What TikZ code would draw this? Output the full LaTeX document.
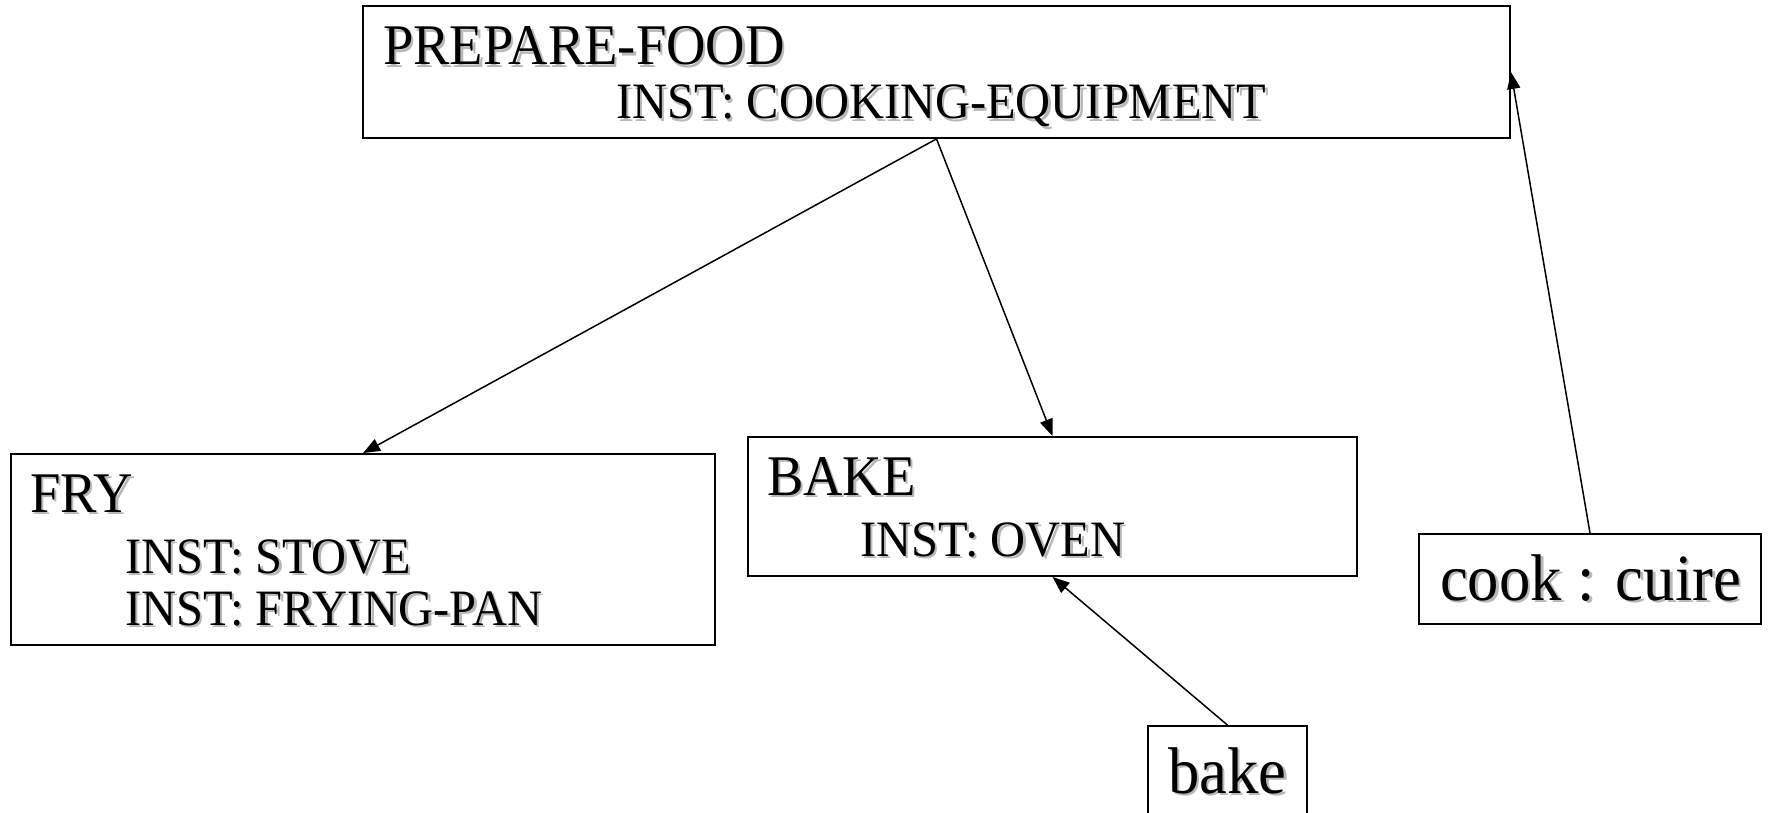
\documentclass[tikz,border=0pt]{standalone}
\usepackage{fontspec}
\setmainfont{Liberation Serif}[FakeStretch=0.95]
\usetikzlibrary{arrows.meta}
\definecolor{shadowgray}{gray}{0.72}
\newcommand\headfont{\fontsize{57.5}{64}\selectfont}
\newcommand\bodyfont{\fontsize{51}{58}\selectfont}
\newcommand\wordfont{\fontsize{66}{74}\selectfont}
% text with a soft grey drop shadow: name, base-west position, font, text
\newcommand\shadowlabel[4]{%
  \node[txt,text=shadowgray] at ([shift={(2.5,-2.5)}]#2) {#3#4};
  \node[txt] (#1) at (#2) {#3#4};}
\begin{document}
\begin{tikzpicture}[x=1pt,y=1pt,
  box/.style={draw=black,line width=1.8pt,inner sep=0pt,fill=none},
  txt/.style={anchor=base west,inner sep=0pt,outer sep=0pt},
  link/.style={draw=black,line width=1.5pt,-{Triangle[length=17pt,width=13pt]}}]
\useasboundingbox (0,0) rectangle (1768,-813);
% frame boxes (corners in pixels, y downward)
\node[box,minimum width=1147pt,minimum height=132pt] (pf)   at (936.5,-72) {};
\node[box,minimum width=704pt,minimum height=191pt]  (fry)  at (363,-549.5) {};
\node[box,minimum width=609pt,minimum height=139pt]  (bake) at (1052.5,-506.5) {};
\node[box,minimum width=342pt,minimum height=90pt]   (cook) at (1590,-579) {};
\node[box,minimum width=159pt,minimum height=110pt]  (word) at (1227.5,-781) {};
% frame contents
\shadowlabel{pfname}{383,-65}{\headfont}{PREPARE-FOOD}
\shadowlabel{pfinst}{616,-119}{\bodyfont}{INST: COOKING-EQUIPMENT}
\shadowlabel{fryname}{30,-512}{\headfont}{FRY}
\shadowlabel{fryinsta}{125,-573}{\bodyfont}{INST: STOVE}
\shadowlabel{fryinstb}{125,-625}{\bodyfont}{INST: FRYING-PAN}
\shadowlabel{bakename}{767,-495}{\headfont}{BAKE}
\shadowlabel{bakeinst}{860,-556}{\bodyfont}{INST: OVEN}
\shadowlabel{cookword}{1440,-600}{\wordfont}{cook : cuire}
\shadowlabel{bakeword}{1168,-793}{\wordfont}{bake}
% links
\draw[link] (pf.south) -- (fry.north);
\draw[link] (pf.south) -- (bake.north);
\draw[link] (word.north) -- (bake.south);
\draw[link] (cook.north) -- (pf.east);
\end{tikzpicture}
\end{document}
